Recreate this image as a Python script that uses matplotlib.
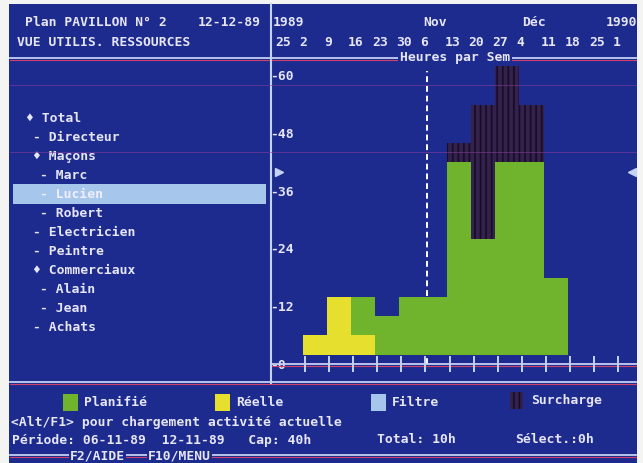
import matplotlib
matplotlib.use('Agg')
import matplotlib.pyplot as plt
import matplotlib.transforms as mtransforms
from matplotlib.patches import Rectangle
from matplotlib.lines import Line2D
import numpy as np

# --- data ---
week_labels = ['25', '2', '9', '16', '23', '30', '6', '13', '20', '27', '4', '11', '18', '25', '1']
month_labels = ['1989', 'Nov', 'Déc', '1990']
month_weeks = [0, 6, 10, 14]
bar_weeks = [1, 2, 3, 4, 5, 6, 7, 8, 9, 10, 11]
planifie = [0, 12, 12, 8, 12, 12, 40, 24, 40, 40, 16]
reelle = [4, 12, 4, 0, 0, 0, 0, 0, 0, 0, 0]
surcharge = [0, 0, 0, 0, 0, 0, 4, 28, 20, 12, 0]
y_ticks = [0, 12, 24, 36, 48, 60]
capacity = 40
current_week = 6
resources = ['Total', 'Directeur', 'Maçons', 'Marc', 'Lucien', 'Robert',
             'Electricien', 'Peintre', 'Commerciaux', 'Alain', 'Jean', 'Achats']
levels = [0, 1, 1, 2, 2, 2, 1, 1, 1, 2, 2, 1]
is_group = [True, False, True, False, False, False, False, False, True, False, False, False]
selected = 'Lucien'
legend_labels = ['Planifié', 'Réelle', 'Filtre', 'Surcharge']

# --- look ---
BLUE = '#1d2b8e'
GREEN = '#70b42e'
YELLOW = '#e6df2e'
FILTRE = '#a6c6ec'
DARK = '#34224c'
HATCH = '#170d28'
TXT = '#e6e6f6'
LINE = '#c4d2f4'
RED = '#d0406a'
W, H = 643, 464
bar_floor = 2
font = dict(family='DejaVu Sans Mono', fontweight='bold', fontsize=9.4, color=TXT)

plt.rcParams['hatch.linewidth'] = 1.3

fig = plt.figure(figsize=(W / 100, H / 100), dpi=100)
fig.patch.set_facecolor('#f4f4f2')

# background axes in pixel coordinates (y down)
bg = fig.add_axes([0, 0, 1, 1])
bg.set_xlim(0, W)
bg.set_ylim(H, 0)
bg.axis('off')
bg.add_patch(Rectangle((9, 5), 628, 470, facecolor=BLUE, edgecolor='none'))


def hline(y, x0=10, x1=636):
    bg.plot([x0, x1], [y, y], color=LINE, lw=1.3, zorder=3)
    bg.plot([x0, x1], [y + 1.6, y + 1.6], color=RED, lw=0.8, zorder=3)


hline(59)
hline(383)
hline(456)
bg.plot([270.5, 270.5], [5, 384], color=LINE, lw=1.5, zorder=3)

# header
bg.text(25, 22, 'Plan PAVILLON N° 2', va='center', **font)
bg.text(198, 22, '12-12-89', va='center', **font)
bg.text(17, 43, 'VUE UTILIS. RESSOURCES', va='center', **font)
bg.text(455, 58, 'Heures par Sem', ha='center', va='center', zorder=4,
        bbox=dict(boxstyle='square,pad=0.15', facecolor=BLUE, edgecolor='none'), **font)

# resource tree
for i, (name, lev, grp) in enumerate(zip(resources, levels, is_group)):
    y = 119 + 19 * i
    x = 26 + 7 * lev
    mark = '♦' if grp else '-'
    if name == selected:
        bg.add_patch(Rectangle((13, y - 10), 253, 20, facecolor=FILTRE, edgecolor='none', zorder=2))
    bg.text(x, y, mark + ' ' + name, va='center', zorder=3,
            **{**font, 'color': '#f2eefa' if name == selected else TXT})

# legend and status lines
legend_colors = [GREEN, YELLOW, FILTRE, DARK]
legend_x = [63, 215, 371, 510]
for lab, col, lx in zip(legend_labels, legend_colors, legend_x):
    yy = 401 if lab == 'Surcharge' else 403
    if lab == 'Surcharge':
        bg.add_patch(Rectangle((lx, yy - 8), 13, 17, facecolor=col, edgecolor=HATCH,
                               lw=0, hatch='|||'))
    else:
        bg.add_patch(Rectangle((lx, yy - 8), 15, 17, facecolor=col, edgecolor='none'))
    bg.text(lx + 21, yy, lab, va='center', **font)
bg.text(11, 422, '<Alt/F1> pour chargement activité actuelle', va='center', **font)
bg.text(12, 440, 'Période: 06-11-89  12-11-89   Cap: 40h', va='center', **font)
bg.text(377, 440, 'Total: 10h', va='center', **font)
bg.text(515, 440, 'Sélect.:0h', va='center', **font)
for lab, lx in [('F2/AIDE', 70), ('F10/MENU', 148)]:
    bg.text(lx, 456, lab, va='center', zorder=4,
            bbox=dict(boxstyle='square,pad=0.1', facecolor=BLUE, edgecolor='none'), **font)

# chart axes
x0_px, x1_px, top_px, bot_px = 272, 637, 61, 382
ax = fig.add_axes([x0_px / W, 1 - bot_px / H, (x1_px - x0_px) / W, (bot_px - top_px) / H])
ax.set_facecolor('none')
ax.set_xlim(-0.37, 14.78)
ax.set_ylim(-3.5, 63.3)
ax.axis('off')

left = np.array(bar_weeks) - 0.1
ax.vlines(current_week + 0.06, 0, 61, colors='white', linestyles=(0, (3, 2)), lw=1.4, zorder=1)
ax.bar(left, planifie, width=1, bottom=bar_floor, align='edge', color=GREEN, zorder=2)
ax.bar(left, reelle, width=1, bottom=bar_floor, align='edge', color=YELLOW, zorder=3)
ax.bar(left, surcharge, width=1, bottom=bar_floor + np.array(planifie), align='edge',
       facecolor=DARK, hatch='|||', edgecolor=HATCH, lw=0, zorder=3)

# x axis with week ticks
ax.axhline(0, color=LINE, lw=1.3, zorder=4)
ax.axhline(-0.4, color=RED, lw=0.8, zorder=4)
ax.vlines(range(1, len(week_labels)), -1.7, 1.8, colors=LINE, lw=1.4, zorder=4)

# y labels and capacity arrows
ytrans = mtransforms.blended_transform_factory(ax.transAxes, ax.transData)
for v in y_ticks:
    ax.text(-0.004, v, '-' + str(v), ha='left', va='center', transform=ytrans, **font)
ax.plot([0.02], [capacity], marker='>', ms=6, color=LINE, transform=ytrans, clip_on=False)
ax.plot([0.985], [capacity], marker='<', ms=6, color=LINE, transform=ytrans, clip_on=False)

# date header aligned to weeks
htrans = mtransforms.blended_transform_factory(ax.transData, bg.transData)
for wk, lab in enumerate(week_labels):
    bg.text(wk - 0.22, 42, lab, ha='left', va='center', transform=htrans, **font)
month_offsets = [-0.33, -0.1, 0.0, -0.5]
for wk, lab, off in zip(month_weeks, month_labels, month_offsets):
    bg.text(wk + off, 22, lab, ha='left', va='center', transform=htrans, **font)

# faint scan lines of the photographed screen
for y in (86, 153):
    fig.add_artist(Line2D([10, 636], [y, y], color='#8a3c9c', lw=0.7, alpha=0.55,
                          transform=bg.transData))

fig.savefig('out.png', dpi=100, facecolor=fig.get_facecolor())
